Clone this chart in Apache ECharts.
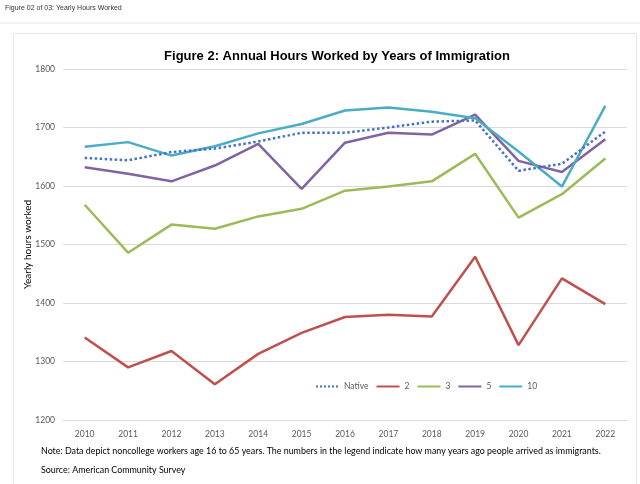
<!DOCTYPE html>
<html><head><meta charset="utf-8">
<script src="https://cdn.jsdelivr.net/npm/echarts@6/dist/echarts.min.js"></script>
<style>html,body{margin:0;padding:0;background:#fff}#c{width:640px;height:484px}</style>
</head><body><div id="c"></div>
<script>
const years = ['2010','2011','2012','2013','2014','2015','2016','2017','2018','2019','2020','2021','2022'];
const native = [1648,1644,1658,1664,1676,1691,1691,1700,1710,1712,1626,1638,1693];
const y2 = [1341,1290,1318,1261,1313,1349,1376,1380,1377,1479,1328,1442,1398];
const y3 = [1568,1486,1534,1527,1548,1561,1592,1599,1608,1655,1546,1586,1647];
const y5 = [1632,1621,1608,1635,1672,1595,1674,1691,1688,1722,1643,1624,1680];
const y10 = [1667,1675,1652,1668,1690,1706,1729,1734,1727,1716,1659,1599,1737];
const seriesNames = ['Native','2','3','5','10'];
const yTicks = {min:1200, max:1800, interval:100};

const colors = ['#4472C4','#C0504D','#9BBB59','#8064A2','#4BACC6'];
const dataSets = [native,y2,y3,y5,y10];
const chart = echarts.init(document.getElementById('c'));
chart.setOption({
  animation:false,
  title:{text:'Figure 2: Annual Hours Worked by Years of Immigration',left:332,top:45,textAlign:'center',
    textStyle:{fontFamily:'Liberation Sans',fontWeight:'bold',fontSize:13,color:'#000'}},
  grid:{left:63,right:13,top:69,bottom:64},
  legend:{data:seriesNames,top:377,left:310,itemWidth:23,itemHeight:3,itemGap:7,
    itemStyle:{opacity:0},
    textStyle:{fontFamily:'Lato',fontSize:8.5,color:'#595959'}},
  xAxis:{type:'category',data:years,boundaryGap:true,
    axisLine:{show:true,lineStyle:{color:'#D9D9D9',width:1}},axisTick:{show:false},
    axisLabel:{fontFamily:'Lato',fontSize:8.5,color:'#595959',margin:10}},
  yAxis:{type:'value',min:yTicks.min,max:yTicks.max,interval:yTicks.interval,
    name:'Yearly hours worked',nameLocation:'middle',nameGap:30,nameRotate:90,nameMoveOverlap:false,
    nameTextStyle:{fontFamily:'Lato',fontSize:10,color:'#000'},
    axisLine:{show:false},axisTick:{show:false},
    axisLabel:{fontFamily:'Lato',fontSize:8.5,color:'#595959',margin:8,formatter:v=>String(v)},
    splitLine:{lineStyle:{color:'#D9D9D9',width:1}}},
  graphic:[
    {type:'text',left:5,top:5,style:{text:'Figure 02 of 03: Yearly Hours Worked',font:'7px "Liberation Sans"',fill:'#333'}},
    {type:'rect',shape:{x:0,y:22,width:640,height:2},style:{fill:'#F2F2F2'},z:-1},
    {type:'rect',shape:{x:13.5,y:33.5,width:623,height:460},style:{fill:'none',stroke:'#E6E6E6',lineWidth:1},z:-1},
    {type:'text',left:41,top:447,style:{text:'Note: Data depict noncollege workers age 16 to 65 years. The numbers in the legend indicate how many years ago people arrived as immigrants.',font:'8.9px Lato',fill:'#000'}},
    {type:'text',left:41,top:466,style:{text:'Source: American Community Survey',font:'8.9px Lato',fill:'#000'}}
  ],
  series: seriesNames.map((n,i)=>({
    name:n,type:'line',data:dataSets[i],symbol:'none',
    lineStyle:{color:colors[i],width:2.5,type:i===0?'dotted':'solid'},
    itemStyle:{color:colors[i]},z:i===0?10:2
  }))
});
</script></body></html>
